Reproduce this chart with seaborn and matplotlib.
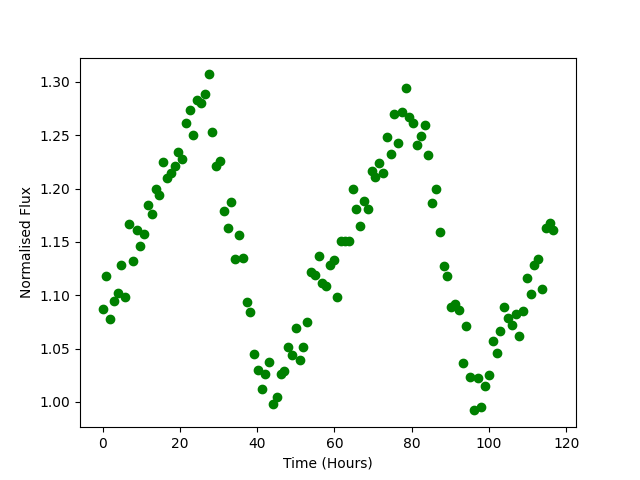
import matplotlib
matplotlib.use("Agg")
import matplotlib.pyplot as plt
import seaborn as sns
import pandas as pd

# time stamps (hours), regular cadence
hours = [0.00, 0.98, 1.96, 2.94, 3.92, 4.90, 5.88, 6.87, 7.85, 8.83,
         9.81, 10.79, 11.77, 12.75, 13.73, 14.71, 15.69, 16.67, 17.65, 18.64,
         19.62, 20.60, 21.58, 22.56, 23.54, 24.52, 25.50, 26.48, 27.46, 28.44,
         29.42, 30.40, 31.39, 32.37, 33.35, 34.33, 35.31, 36.29, 37.27, 38.25,
         39.23, 40.21, 41.19, 42.17, 43.16, 44.14, 45.12, 46.10, 47.08, 48.06,
         49.04, 50.02, 51.00, 51.98, 52.96, 53.94, 54.92, 55.91, 56.89, 57.87,
         58.85, 59.83, 60.81, 61.79, 62.77, 63.75, 64.73, 65.71, 66.69, 67.68,
         68.66, 69.64, 70.62, 71.60, 72.58, 73.56, 74.54, 75.52, 76.50, 77.48,
         78.46, 79.44, 80.43, 81.41, 82.39, 83.37, 84.35, 85.33, 86.31, 87.29,
         88.27, 89.25, 90.23, 91.21, 92.20, 93.18, 94.16, 95.14, 96.12, 97.10,
         98.08, 99.06, 100.04, 101.02, 102.00, 102.98, 103.96, 104.95, 105.93, 106.91,
         107.89, 108.87, 109.85, 110.83, 111.81, 112.79, 113.77, 114.75, 115.73, 116.72]

flux = [1.087, 1.118, 1.078, 1.095, 1.102, 1.128, 1.098, 1.167, 1.132, 1.161,
        1.146, 1.157, 1.185, 1.176, 1.200, 1.194, 1.225, 1.210, 1.215, 1.221,
        1.234, 1.228, 1.261, 1.274, 1.250, 1.283, 1.280, 1.289, 1.307, 1.253,
        1.221, 1.226, 1.179, 1.163, 1.187, 1.134, 1.156, 1.135, 1.094, 1.084,
        1.045, 1.030, 1.012, 1.026, 1.037, 0.998, 1.005, 1.026, 1.029, 1.051,
        1.044, 1.069, 1.039, 1.051, 1.075, 1.122, 1.119, 1.137, 1.111, 1.109,
        1.128, 1.133, 1.098, 1.151, 1.151, 1.151, 1.200, 1.181, 1.165, 1.188,
        1.181, 1.216, 1.211, 1.224, 1.215, 1.248, 1.232, 1.270, 1.243, 1.272,
        1.294, 1.267, 1.261, 1.241, 1.249, 1.260, 1.231, 1.186, 1.200, 1.159,
        1.127, 1.118, 1.089, 1.092, 1.086, 1.036, 1.071, 1.023, 0.992, 1.022,
        0.995, 1.015, 1.025, 1.057, 1.046, 1.066, 1.089, 1.079, 1.072, 1.082,
        1.062, 1.085, 1.116, 1.101, 1.128, 1.134, 1.106, 1.163, 1.168, 1.161]

df = pd.DataFrame({"hours": hours, "flux": flux})

fig, ax = plt.subplots(figsize=(6.4, 4.8), dpi=100)
sns.scatterplot(data=df, x="hours", y="flux", color="green", s=36,
                edgecolor="green", linewidth=1, ax=ax)
ax.set_xlabel("Time (Hours)")
ax.set_ylabel("Normalised Flux")
fig.savefig("out.png", dpi=100)
